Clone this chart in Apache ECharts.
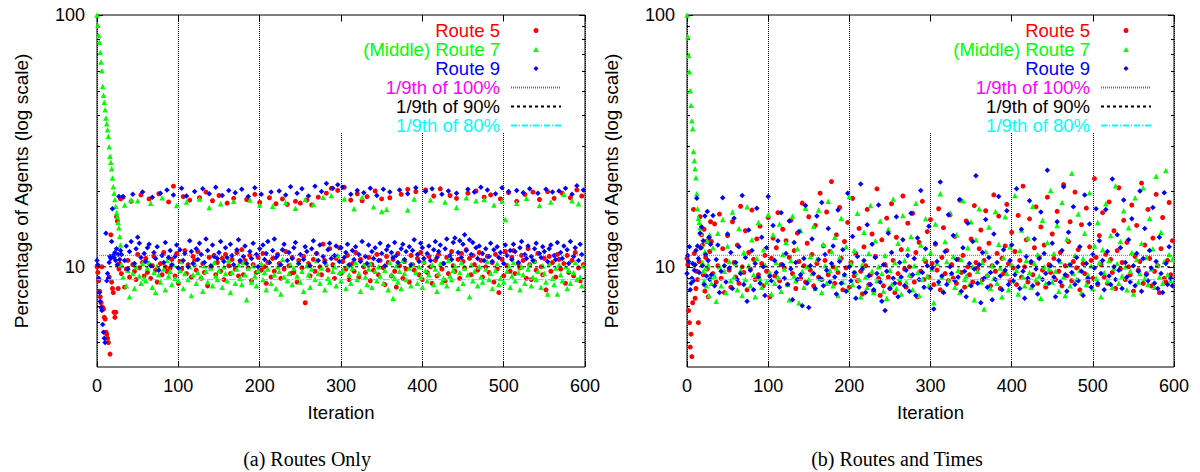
<!DOCTYPE html>
<html>
<head>
<meta charset="utf-8">
<script src="https://cdn.jsdelivr.net/npm/echarts@6/dist/echarts.min.js"></script>
<style>html,body{margin:0;padding:0;background:#fff}#c{width:1200px;height:472px}</style>
</head>
<body>
<div id="c"></div>
<script>
// ---------- tick labels / categories ----------
const yMajorTicks = [10, 100];
const yMinorTicks = [5, 6, 7, 8, 9, 20, 30, 40, 50, 60, 70, 80, 90];
const seriesNames = ['Route 5', '(Middle) Route 7', 'Route 9'];
const refNames = ['1/9th of 100%', '1/9th of 90%', '1/9th of 80%'];
const refValues = [11.11, 10, 8.89];
const captions = ['(a) Routes Only', '(b) Routes and Times'];

// iterations of the start-up phase (every iteration) and of the rest of the run
const iterStart = [0,1,2,3,4,5,6,7,8,9,10,11,12,13,14,15,16,17,18,19,20,21,22,23,24,25,26,27,28,29];
const iterSteady = [
30,32,34,36,38,40,42,44,46,48,50,52,54,56,58,
60,62,64,66,68,70,72,74,76,78,80,82,84,86,88,
90,92,94,96,98,100,102,104,106,108,110,112,114,116,118,
120,122,124,126,128,130,132,134,136,138,140,142,144,146,148,
150,152,154,156,158,160,162,164,166,168,170,172,174,176,178,
180,182,184,186,188,190,192,194,196,198,200,202,204,206,208,
210,212,214,216,218,220,222,224,226,228,230,232,234,236,238,
240,242,244,246,248,250,252,254,256,258,260,262,264,266,268,
270,272,274,276,278,280,282,284,286,288,290,292,294,296,298,
300,302,304,306,308,310,312,314,316,318,320,322,324,326,328,
330,332,334,336,338,340,342,344,346,348,350,352,354,356,358,
360,362,364,366,368,370,372,374,376,378,380,382,384,386,388,
390,392,394,396,398,400,402,404,406,408,410,412,414,416,418,
420,422,424,426,428,430,432,434,436,438,440,442,444,446,448,
450,452,454,456,458,460,462,464,466,468,470,472,474,476,478,
480,482,484,486,488,490,492,494,496,498,500,502,504,506,508,
510,512,514,516,518,520,522,524,526,528,530,532,534,536,538,
540,542,544,546,548,550,552,554,556,558,560,562,564,566,568,
570,572,574,576,578,580,582,584,586,588,590,592,594,596,598];

// ---------- (a) Routes Only ----------
const routesOnly_r5_start = [10.0,9.5,8.8,8.0,7.6,7.2,10.0,6.9,6.8,6.3,6.2,5.5,5.4,5.2,5.0,9.1,4.5,13.4,8.7,8.2,7.9,6.6,6.3,6.6,15.8,15.2,8.2,9.8,10.3,18.6];
const routesOnly_r7_start = [100,91,83,78,71,65,60,52,48,45,42,39,37,35,33,30,27.5,26,24.5,22.5,20.8,19.6,18.5,17.4,16.4,15.8,15,14.3,13.2,12.2];
const routesOnly_r9_start = [10.6,10.2,9.0,7.9,7.3,6.9,6.7,5.9,5.5,5.2,5.0,13.6,8.8,9.4,9.0,10.4,11.0,10.8,12.6,17.0,11.1,10.9,11.4,10.6,11.8,10.2,11.2,19.0,10.7,11.6];

const routesOnly_r5 = [
9.4,18.9,8.3,9.8,10.6,9.1,18.2,10.2,9.6,8.9,11.2,9.9,19.3,10.4,9.2,
10.8,9.5,18.6,9.0,10.1,11.0,9.7,8.7,19.5,10.3,9.3,11.4,10.0,9.6,18.1,
9.9,10.7,20.9,9.2,11.3,8.6,10.5,9.8,19.0,11.6,9.4,10.2,18.4,9.1,11.0,
10.6,9.7,11.5,18.8,9.0,10.3,9.5,19.8,8.4,10.9,9.9,18.3,11.1,9.3,10.4,
19.2,9.6,10.8,8.9,11.2,17.9,10.1,9.4,10.7,18.7,9.8,11.4,9.2,10.5,11.7,
9.3,10.6,18.5,9.9,11.1,8.8,10.2,19.4,9.5,10.9,18.0,9.7,11.3,10.0,8.6,
10.4,18.8,9.1,10.8,9.6,17.8,11.2,10.3,9.0,18.6,9.8,11.5,17.7,10.1,9.4,
10.9,9.5,18.2,8.7,10.6,17.9,9.9,11.0,7.2,18.4,10.3,9.2,17.6,10.7,9.6,
11.3,18.9,10.0,9.3,12.3,10.6,19.6,9.7,11.8,20.5,10.2,9.0,10.8,20.1,11.9,
9.4,10.5,20.7,9.8,11.1,8.9,18.4,10.3,9.6,11.4,19.5,9.1,10.7,18.3,10.0,
9.5,19.0,10.9,8.8,10.2,9.7,20.0,11.2,9.3,10.6,18.6,9.9,8.5,11.0,10.4,
18.8,9.2,10.7,9.6,8.3,11.3,10.1,19.4,9.0,10.5,9.8,20.3,8.7,11.1,10.2,
9.7,19.9,10.8,9.3,11.4,8.9,10.4,20.2,9.5,11.0,10.0,8.6,19.1,10.6,9.2,
11.2,20.4,9.8,10.3,8.8,10.9,9.4,19.2,11.5,10.1,9.6,18.7,10.7,9.0,11.3,
10.5,9.9,11.7,19.6,10.8,9.3,11.1,10.2,20.0,9.7,11.4,10.6,9.1,18.9,10.0,
11.0,9.5,19.3,10.4,8.7,11.2,9.8,7.9,18.6,10.7,9.2,11.5,10.1,19.7,9.6,
10.9,11.6,9.4,18.2,10.3,9.9,11.1,10.6,19.4,9.0,11.8,10.2,8.9,19.8,10.5,
9.7,11.3,18.5,10.0,9.3,10.8,8.1,19.9,11.0,9.6,10.4,18.7,9.1,11.2,10.7,
9.8,19.6,10.3,8.6,11.1,9.5,18.8,10.6,9.2,11.4,20.2,9.9,8.8,19.1,10.2];

const routesOnly_r7 = [
10.2,9.1,17.6,8.4,9.7,7.6,18.4,9.4,8.2,10.0,18.3,9.2,8.6,10.3,9.0,
8.8,9.9,10.4,17.9,8.3,9.5,7.9,10.1,9.3,8.7,18.8,9.8,8.1,10.6,9.2,
9.6,8.5,10.2,9.0,17.5,8.8,9.7,10.5,8.2,9.4,18.1,8.9,10.0,7.7,9.3,
10.3,8.6,9.5,18.6,9.1,8.0,10.1,9.6,8.7,17.2,9.9,8.4,10.4,9.2,8.9,
9.7,17.8,8.3,10.0,9.4,8.8,10.6,7.9,9.5,18.2,8.6,9.8,10.2,9.0,8.5,
10.4,9.3,7.4,9.9,18.4,8.7,10.1,9.2,8.4,9.7,17.6,10.3,8.9,9.5,8.1,
9.8,10.5,8.6,17.4,9.3,8.2,10.0,9.6,7.8,10.7,9.1,18.0,8.8,9.4,10.2,
8.5,9.9,17.1,9.2,10.4,8.7,9.6,8.0,18.5,10.1,9.3,8.3,9.8,17.7,8.9,
10.6,9.4,8.6,9.9,18.9,8.1,10.3,9.0,8.7,19.2,9.6,10.0,8.4,11.1,9.5,
8.8,9.7,18.6,8.2,10.1,9.3,8.6,9.9,17.0,10.4,8.9,9.4,8.0,18.9,10.2,
9.1,8.5,9.8,10.3,8.3,17.3,9.6,8.8,10.0,9.2,16.6,8.6,9.7,16.9,8.1,
10.4,9.3,7.5,9.0,10.1,8.7,9.6,8.2,10.6,9.4,8.9,16.8,9.9,8.4,10.2,
18.6,9.5,8.6,10.0,9.1,8.3,10.5,9.7,8.8,9.3,18.4,10.2,8.5,9.8,8.0,
9.4,10.3,8.7,9.0,18.1,8.4,10.6,9.2,8.9,9.7,10.1,17.2,8.2,9.5,10.4,
8.6,9.9,18.8,9.3,7.6,10.2,8.8,9.6,18.3,8.4,10.0,9.1,8.7,18.5,9.8,
10.5,8.9,9.4,8.2,17.6,9.7,10.3,8.5,9.0,18.2,8.7,15.4,9.6,10.1,8.3,
9.2,10.4,8.8,17.9,9.5,8.1,10.0,9.3,8.6,18.7,9.8,10.2,8.4,9.1,10.6,
8.9,9.6,17.5,8.3,10.1,9.4,8.7,7.8,10.3,18.1,9.0,8.5,9.9,7.8,10.2,
9.3,8.8,19.4,10.0,8.2,9.7,8.6,18.3,9.5,10.4,8.9,17.8,9.1,8.4,10.1];

const routesOnly_r9 = [
11.2,19.0,10.6,12.1,9.8,11.5,12.6,19.4,10.3,11.8,13.1,12.4,10.9,19.8,11.3,
10.5,11.9,12.3,10.1,18.9,11.4,10.8,12.0,9.7,19.6,11.1,10.4,12.5,20.2,10.9,
11.6,10.2,19.3,11.0,12.2,9.9,11.7,20.5,10.6,11.3,19.1,10.0,12.7,11.5,10.3,
19.9,11.8,10.7,12.4,11.2,20.4,10.4,12.9,11.6,19.5,10.1,12.2,11.0,20.7,10.8,
11.4,12.6,19.2,10.5,11.9,10.9,20.1,12.3,11.1,10.2,19.7,11.7,12.8,10.6,20.3,
11.0,12.1,10.3,19.0,11.5,10.8,12.4,20.6,11.2,10.0,11.8,19.4,12.2,10.7,11.3,
12.6,10.4,19.8,11.6,12.9,10.9,11.1,20.0,10.2,11.7,12.3,19.3,10.6,11.4,20.8,
10.8,11.9,12.5,19.6,10.3,11.2,20.4,10.7,12.0,11.5,19.1,10.1,11.8,12.7,20.9,
11.3,10.6,12.2,19.9,11.0,10.4,21.4,11.7,12.4,10.8,20.5,11.1,12.1,21.2,10.5,
11.9,20.7,10.9,11.4,12.3,10.2,19.4,11.6,10.7,12.0,20.1,11.2,10.5,12.6,19.7,
11.0,10.3,12.2,20.5,11.5,10.8,11.9,19.2,10.6,12.4,11.3,20.3,10.1,11.7,12.1,
19.8,11.4,10.9,12.5,11.1,10.4,20.2,11.8,12.3,10.7,11.5,19.5,12.0,10.2,11.6,
12.8,20.6,11.2,10.5,12.4,11.9,10.8,19.9,11.3,12.1,10.6,20.4,11.7,12.6,10.9,
11.5,12.2,19.4,10.3,11.8,12.9,20.0,11.1,10.7,12.5,13.0,19.6,11.4,12.7,10.9,
12.3,13.4,11.6,20.3,12.8,11.2,12.5,19.8,11.9,10.8,12.1,20.7,11.3,10.6,11.8,
20.2,11.0,12.4,10.5,11.7,19.5,12.0,10.9,11.4,20.6,10.3,12.2,11.1,19.9,11.6,
10.7,12.3,11.5,20.1,10.4,11.9,12.6,19.7,11.2,10.8,12.1,20.4,11.0,10.6,11.8,
12.4,19.6,11.3,10.9,12.0,11.5,20.3,10.5,11.8,12.2,19.8,11.1,10.7,12.5,20.0,
11.4,10.8,12.1,20.5,11.7,10.3,12.6,19.4,11.0,11.9,21.0,10.6,12.3,11.2,20.2];

// ---------- (b) Routes and Times ----------
const routesTimes_r5_start = [10.8,10.2,6.7,6.0,4.8,5.4,4.4,7.2,16.9,11.3,7.5,8.2,9.6,8.9,6.0,10.5,15.8,11.9,13.4,12.2,9.3,14.1,8.0,10.9,12.6,9.8,7.6,13.0,11.5,15.1];
const routesTimes_r7_start = [100,82,69,59.5,50,43.8,38,35.3,28.7,26.4,24.5,22.6,19.5,17.0,15.6,15.0,14.3,13.6,12.1,10.4,9.6,8.8,11.5,9.9,8.4,12.7,10.2,7.7,13.4,9.1];
const routesTimes_r9_start = [9.4,11.1,10.5,12.0,8.1,8.6,9.0,10.3,8.8,9.7,10.2,11.6,18.7,12.1,10.8,9.5,13.6,11.9,14.4,10.1,12.7,8.5,15.9,11.2,9.2,16.6,10.6,13.1,8.9,12.3];

const routesTimes_r5 = [
12.6,9.4,14.8,8.7,10.1,16.2,9.0,11.8,7.9,10.6,13.3,9.7,8.3,15.1,10.4,
9.1,12.2,8.6,17.4,10.0,9.5,13.9,8.1,11.4,9.8,16.8,10.7,8.9,12.9,9.3,
14.5,10.3,8.4,11.1,9.6,15.7,7.6,10.8,13.0,9.2,11.9,16.4,8.8,10.2,14.1,
9.9,12.7,8.5,10.9,15.3,9.4,11.6,8.2,13.6,10.5,9.0,17.9,10.1,8.7,12.4,
15.8,9.7,11.2,8.4,14.6,10.3,9.1,19.6,8.9,12.1,10.6,16.5,9.3,11.5,21.8,
10.0,8.6,13.4,9.5,17.2,10.8,8.1,12.6,9.9,15.0,8.3,10.4,18.7,9.2,11.3,
8.8,14.2,9.6,7.8,12.0,10.1,16.9,8.5,9.3,13.5,8.0,11.0,20.4,9.0,7.7,
12.8,8.4,10.2,15.6,9.1,8.2,17.8,10.6,7.9,13.1,9.4,8.6,11.7,19.1,9.8,
8.3,14.9,10.0,9.2,16.3,8.7,11.4,7.6,12.5,9.6,18.2,8.9,10.5,13.8,9.1,
15.4,10.3,8.5,12.3,9.7,17.0,8.1,10.9,14.3,9.4,11.6,8.8,16.1,10.2,9.0,
13.2,8.6,10.7,18.4,9.5,11.1,8.3,15.2,10.0,9.3,12.9,8.7,17.5,10.4,9.8,
11.8,14.0,8.9,10.6,16.7,9.2,12.4,8.4,10.1,19.3,9.6,11.3,15.9,8.2,10.8,
9.4,12.1,17.7,10.3,8.8,13.7,9.9,11.5,8.5,16.0,10.6,9.1,20.9,10.0,12.8,
8.7,15.5,10.4,9.3,11.9,17.3,8.6,10.9,14.4,9.7,12.2,8.3,18.9,10.2,9.5,
13.5,10.8,8.9,16.6,9.6,11.4,8.4,21.2,10.1,9.2,12.6,15.1,8.8,10.5,19.8,
9.9,11.7,8.1,14.7,10.3,9.4,17.1,8.7,12.0,10.6,9.0,22.4,10.9,8.5,13.3,
10.2,16.4,9.1,11.2,8.6,18.1,10.7,9.5,13.9,8.2,11.6,20.6,9.8,10.4,15.3,
8.9,12.5,10.0,9.3,17.6,8.0,11.0,14.6,9.7,10.5,21.5,8.6,12.2,9.4,16.9,
10.8,8.4,13.0,9.6,19.4,10.1,7.9,11.8,15.7,9.0,8.7,10.6,18.0,9.3,12.7];

const routesTimes_r7 = [
8.6,11.9,9.2,7.3,13.6,10.0,8.4,15.4,9.6,7.9,12.1,10.5,8.8,16.5,9.1,
10.3,8.1,14.2,9.7,7.7,11.4,8.9,17.3,10.1,8.4,12.8,9.3,7.6,10.8,15.0,
9.0,8.3,11.7,10.2,8.7,16.1,9.5,7.8,13.4,8.6,10.4,9.1,14.8,8.0,11.2,
9.8,12.5,8.5,7.4,10.6,15.9,9.2,8.8,11.8,7.2,13.9,9.6,8.3,17.1,10.0,
8.9,11.0,9.4,14.5,8.2,10.7,16.8,9.0,7.9,12.3,10.1,8.6,18.2,9.7,11.5,
8.4,13.1,9.9,7.7,10.9,15.6,8.7,9.3,12.0,8.1,19.0,10.3,8.5,11.6,9.5,
16.3,8.9,7.6,10.2,13.7,9.1,8.3,11.3,17.5,9.6,7.9,12.7,8.8,10.0,15.2,
9.4,8.0,11.1,7.5,14.1,9.7,8.5,18.6,10.4,8.2,12.4,9.0,7.8,16.0,10.6,
8.7,11.8,9.3,13.2,8.1,10.1,17.9,9.5,7.7,12.2,8.9,10.8,15.5,9.2,8.4,
11.4,9.8,7.2,14.8,10.3,8.6,19.5,9.1,8.0,12.6,10.5,8.8,16.4,9.4,11.0,
8.3,13.4,9.7,7.9,10.7,18.3,8.9,9.2,11.9,8.5,15.1,10.0,7.4,12.8,9.6,
17.0,8.7,10.4,6.8,11.5,9.3,14.4,8.2,10.1,9.0,16.6,8.6,12.3,9.9,7.6,
10.9,15.8,9.4,8.1,12.0,10.2,8.8,19.2,9.7,7.8,11.6,14.0,9.1,8.4,10.6,
13.0,9.5,8.3,17.4,10.3,8.9,11.2,9.2,7.5,15.3,10.0,8.6,12.5,9.8,20.1,
8.7,11.3,9.6,14.6,8.0,10.5,18.0,9.1,7.7,12.9,10.2,8.4,23.5,9.4,11.1,
8.9,16.2,9.7,7.9,10.8,13.6,8.5,9.3,19.7,10.1,8.2,12.1,9.0,15.0,10.4,
7.6,11.7,9.5,17.8,8.8,10.6,13.3,8.3,9.9,21.0,10.3,8.6,12.6,9.2,16.7,
10.0,8.1,14.3,9.6,11.4,7.8,18.8,10.7,8.7,9.4,12.4,20.6,9.0,10.9,8.5,
15.6,9.8,11.8,8.3,22.9,10.2,9.1,13.7,8.6,10.5,24.1,9.3,11.2,8.8,10.7];

const routesTimes_r9 = [
9.3,16.0,8.4,10.7,12.2,7.9,9.6,18.8,10.1,8.7,13.5,9.9,11.4,8.2,15.6,
10.4,8.9,12.0,9.4,19.2,8.5,10.9,7.3,14.0,9.7,11.6,8.1,10.3,17.1,9.1,
8.6,13.1,10.0,7.7,11.9,19.0,9.2,8.8,14.6,10.6,9.5,12.7,8.3,16.4,10.2,
9.0,11.3,8.5,15.2,9.8,7.4,12.5,10.4,8.9,13.8,9.3,7.0,10.8,17.5,8.6,
6.9,10.1,12.9,9.4,8.2,15.9,10.7,9.0,18.0,8.4,11.2,9.7,14.2,8.7,10.3,
12.1,9.1,7.8,16.8,10.5,8.6,11.7,9.3,8.0,19.6,10.0,8.8,13.2,9.5,7.5,
11.0,8.3,21.3,9.8,10.6,7.9,14.7,9.2,8.5,12.3,8.1,10.9,9.4,17.6,8.7,
7.3,10.2,6.7,9.6,13.6,8.2,11.4,9.0,8.6,15.8,7.6,10.4,9.1,12.8,8.4,
9.7,11.1,8.0,16.3,9.3,10.8,7.7,13.0,8.9,20.1,9.5,8.3,11.8,10.1,14.5,
8.2,9.9,6.8,12.4,10.5,8.7,21.7,9.2,7.9,11.5,8.5,16.1,10.0,9.4,13.3,
8.8,10.7,9.1,18.5,8.0,11.9,9.6,7.6,14.9,10.3,8.4,12.6,9.8,23.0,8.6,
10.2,7.2,11.4,9.0,15.4,8.3,10.9,9.5,7.4,13.5,8.9,10.4,19.0,9.2,8.1,
11.7,9.7,16.7,8.5,10.6,12.2,8.8,9.3,20.4,10.0,8.2,14.1,9.6,7.5,11.0,
9.0,18.3,10.5,8.4,12.9,9.8,7.8,10.8,16.5,8.9,11.3,9.4,24.2,8.6,10.1,
12.4,9.1,7.6,15.1,10.6,8.7,11.6,20.8,9.3,8.0,13.7,10.2,9.5,17.3,8.5,
10.9,8.8,12.0,9.6,7.7,19.3,10.3,9.0,14.8,8.3,11.2,9.9,17.0,8.6,12.7,
9.4,10.6,8.1,16.9,11.5,9.2,8.5,22.3,10.0,8.9,13.4,9.7,11.9,8.2,18.4,
10.4,9.1,12.8,8.7,15.5,10.1,8.4,11.3,9.6,20.0,8.0,10.8,14.2,9.3,8.8,
11.6,9.9,17.2,8.6,10.5,8.2,13.1,9.4,7.9,19.7,10.3,8.5,12.0,9.0,8.4];

// ---------- build ----------
const FONT = '"Liberation Sans", Arial, Helvetica, sans-serif';
const SERIF = '"Liberation Serif", "Times New Roman", serif';
const routeColors = ['#ff0000', '#00ff00', '#0000ff'];
const routeSymbols = ['circle', 'triangle', 'diamond'];
const routeIcons = ['circle', 'path://M1,0L2,1.7L0,1.7Z', 'path://M1,0L2,1L1,2L0,1Z'];
const routeSizes = [5, 5.5, 5.5];
const refColors = ['#ff00ff', '#000000', '#00ffff'];
const refDash = [[1, 1], [3, 3], [6, 2, 1, 2]];

const panels = [
  { start: [routesOnly_r5_start, routesOnly_r7_start, routesOnly_r9_start],
    steady: [routesOnly_r5, routesOnly_r7, routesOnly_r9] },
  { start: [routesTimes_r5_start, routesTimes_r7_start, routesTimes_r9_start],
    steady: [routesTimes_r5, routesTimes_r7, routesTimes_r9] }
];

function points(startVals, steadyVals) {
  const out = [];
  startVals.forEach((v, i) => out.push([iterStart[i], v]));
  steadyVals.forEach((v, i) => { if (i < iterSteady.length) out.push([iterSteady[i], v]); });
  return out;
}

const gridBoxes = [
  { left: 97, top: 15, width: 488, height: 352 },
  { left: 687, top: 15, width: 487, height: 352 }
];

const grid = gridBoxes.map(g => Object.assign({}, g, {
  show: true, borderColor: '#000', borderWidth: 1, backgroundColor: 'transparent', containLabel: false
}));

const xAxis = [], yAxis = [], series = [];
panels.forEach((p, pi) => {
  xAxis.push({
    gridIndex: pi, type: 'value', min: 0, max: 600, interval: 100, position: 'bottom',
    axisLine: { show: false },
    axisTick: { show: true, inside: true, length: 6, lineStyle: { color: '#000', width: 1 } },
    axisLabel: { color: '#000', fontSize: 18, fontFamily: FONT, margin: 10 },
    splitLine: { show: true, lineStyle: { color: '#000', width: 1, type: [1, 1] } },
    name: 'Iteration', nameLocation: 'middle', nameGap: 36,
    nameTextStyle: { color: '#000', fontSize: 18.5, fontFamily: FONT }
  });
  xAxis.push({
    gridIndex: pi, type: 'value', min: 0, max: 600, interval: 100, position: 'top',
    axisLine: { show: false },
    axisTick: { show: true, inside: true, length: 6, lineStyle: { color: '#000', width: 1 } },
    axisLabel: { show: false }, splitLine: { show: false }
  });
  const yBase = { gridIndex: pi, type: 'log', logBase: 10, min: 4, max: 100,
    axisLine: { show: false }, splitLine: { show: false }, minorTick: { show: false } };
  yAxis.push(Object.assign({}, yBase, {
    position: 'left',
    axisTick: { show: true, inside: true, length: 6, customValues: yMajorTicks, lineStyle: { color: '#000' } },
    axisLabel: { show: true, customValues: yMajorTicks, color: '#000', fontSize: 18, fontFamily: FONT, margin: 12 },
    name: 'Percentage of Agents (log scale)', nameLocation: 'middle', nameGap: 66,
    nameTextStyle: { color: '#000', fontSize: 19, fontFamily: FONT }
  }));
  yAxis.push(Object.assign({}, yBase, {
    position: 'left',
    axisTick: { show: true, inside: true, length: 3, customValues: yMinorTicks, lineStyle: { color: '#000' } },
    axisLabel: { show: false }
  }));
  yAxis.push(Object.assign({}, yBase, {
    position: 'right',
    axisTick: { show: true, inside: true, length: 6, customValues: yMajorTicks, lineStyle: { color: '#000' } },
    axisLabel: { show: false }
  }));
  yAxis.push(Object.assign({}, yBase, {
    position: 'right',
    axisTick: { show: true, inside: true, length: 3, customValues: yMinorTicks, lineStyle: { color: '#000' } },
    axisLabel: { show: false }
  }));

  seriesNames.forEach((name, si) => {
    series.push({
      name: name, type: 'scatter', xAxisIndex: pi * 2, yAxisIndex: pi * 4,
      symbol: routeSymbols[si], symbolSize: routeSizes[si],
      itemStyle: { color: routeColors[si], opacity: 1 },
      data: points(p.start[si], p.steady[si]), silent: true, animation: false, z: 2
    });
  });
  refNames.forEach((name, ri) => {
    series.push({
      name: name, type: 'line', xAxisIndex: pi * 2, yAxisIndex: pi * 4,
      symbol: 'none', itemStyle: { color: refColors[ri] },
      lineStyle: { color: refColors[ri], width: 1, type: refDash[ri] },
      data: [[0, refValues[ri]], [600, refValues[ri]]], silent: true, animation: false, z: 3
    });
  });
});

const legendData = seriesNames.map((n, i) => ({ name: n, icon: routeIcons[i], textStyle: { color: routeColors[i] } }))
  .concat(refNames.map((n, i) => ({ name: n, textStyle: { color: refColors[i] }, itemStyle: { opacity: 0 } })));

const legend = [638, 48].map(r => ({
  orient: 'vertical', right: r, top: 21, align: 'right',
  itemWidth: 50, itemHeight: 5, itemGap: 0, padding: 0, selectedMode: false, symbolKeepAspect: true,
  textStyle: { fontSize: 18.5, fontFamily: FONT, lineHeight: 19, padding: [0, 6, 0, 0] },
  data: legendData
}));

const graphic = [
  { type: 'rect', shape: { x: 333, y: 21.5, width: 244, height: 111.5 }, style: { fill: '#fff' }, z: 1, silent: true },
  { type: 'rect', shape: { x: 923, y: 21.5, width: 244, height: 111.5 }, style: { fill: '#fff' }, z: 1, silent: true },
  { type: 'text', x: 307, y: 459, style: { text: captions[0], fill: '#000', font: '20px ' + SERIF, textAlign: 'center', textVerticalAlign: 'middle' }, silent: true },
  { type: 'text', x: 897, y: 459, style: { text: captions[1], fill: '#000', font: '20px ' + SERIF, textAlign: 'center', textVerticalAlign: 'middle' }, silent: true }
];

const chart = echarts.init(document.getElementById('c'), null, { renderer: 'svg' });
chart.setOption({
  animation: false, backgroundColor: '#fff',
  grid: grid, xAxis: xAxis, yAxis: yAxis, series: series, legend: legend, graphic: graphic
});
</script>
</body>
</html>
